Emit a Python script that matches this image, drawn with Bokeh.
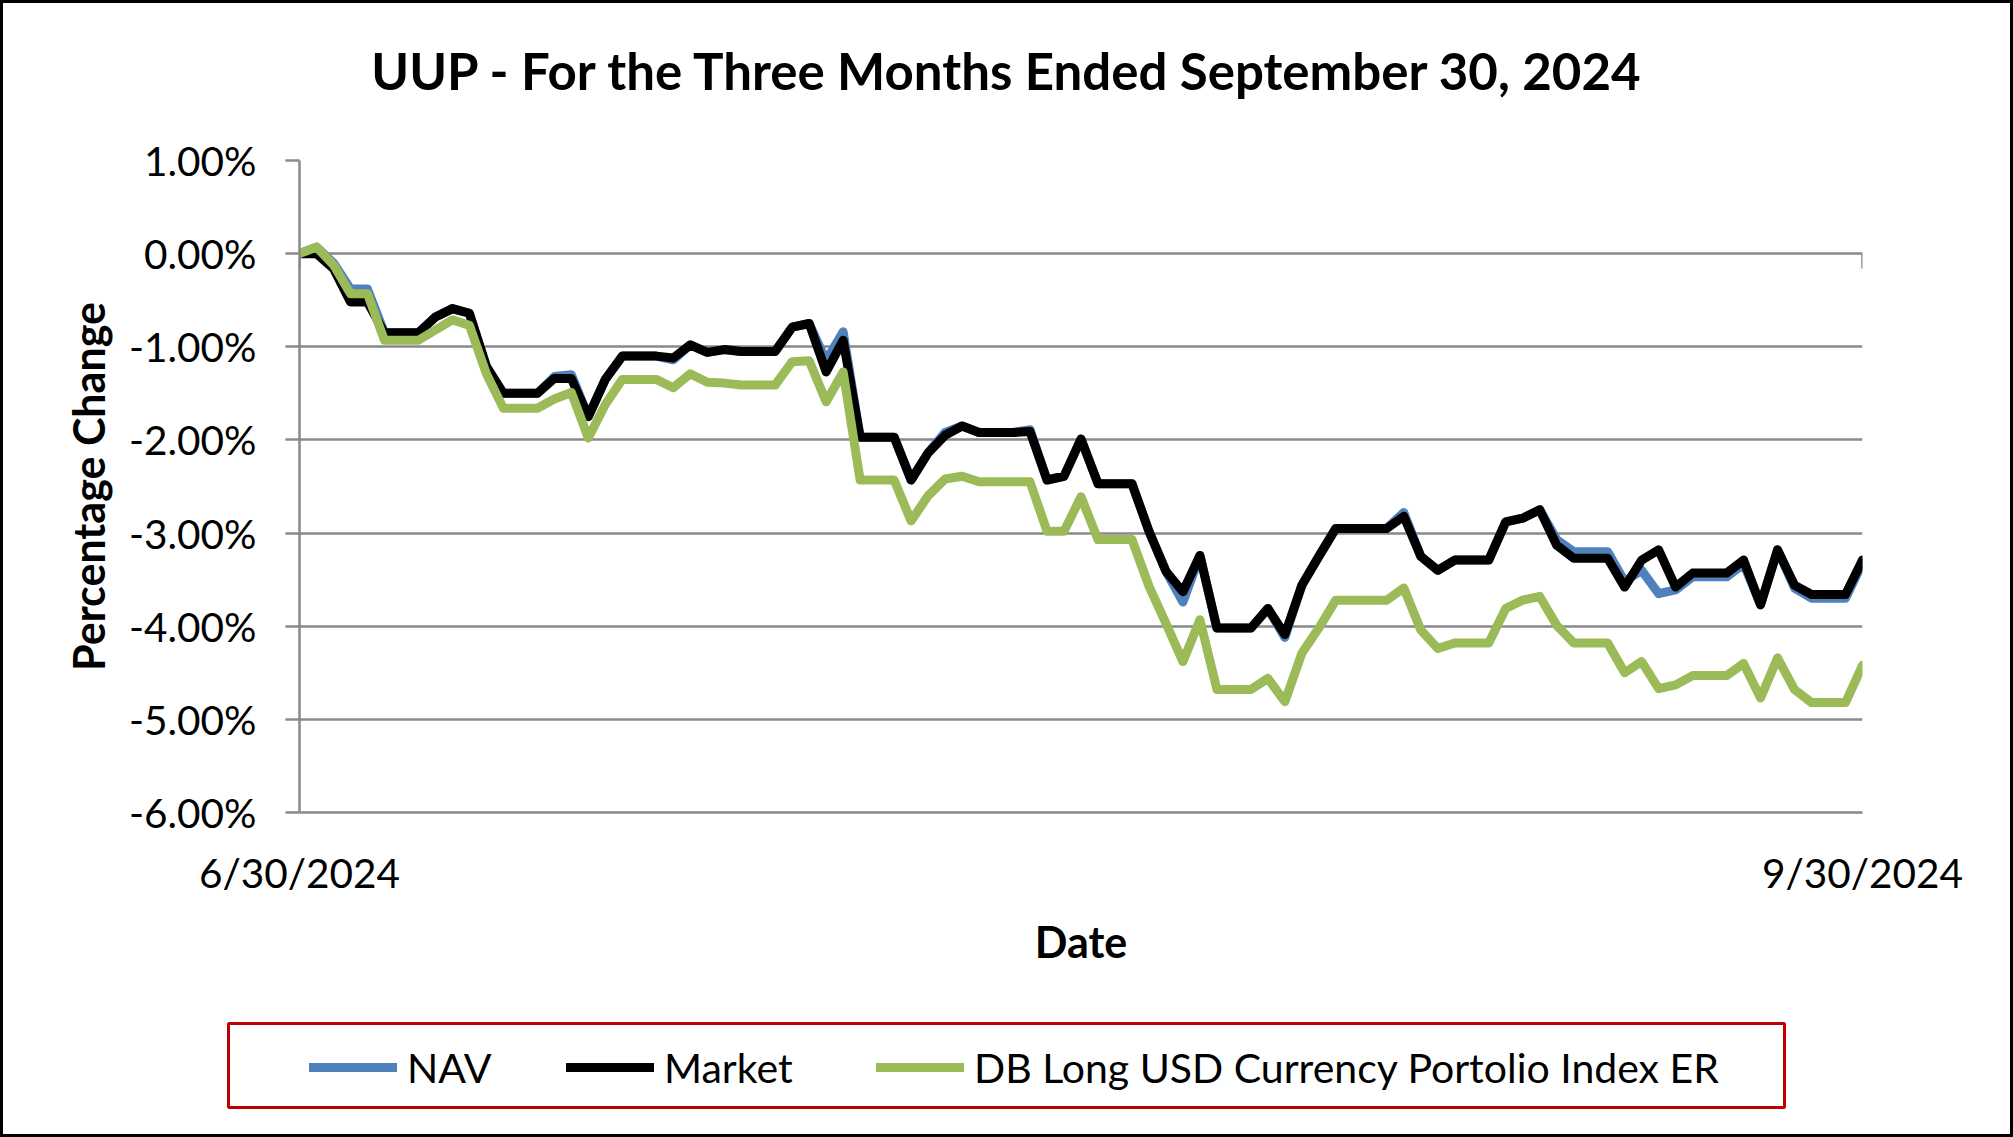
import pandas as pd
from bokeh.plotting import figure
from bokeh.layouts import column
from bokeh.models import (FixedTicker, Legend, LegendItem, BoxAnnotation, Range1d,
                          PrintfTickFormatter, ColumnDataSource, Label, LinearAxis)
from bokeh.embed import file_html
from bokeh.resources import INLINE

# ---------------- data ----------------
dates = pd.date_range("2024-06-30", "2024-09-30", freq="D")

market = [0.00, 0.00, -0.16, -0.52, -0.52, -0.85, -0.85, -0.85, -0.68, -0.59,
          -0.64, -1.21, -1.50, -1.50, -1.50, -1.34, -1.34, -1.75, -1.35, -1.10,
          -1.10, -1.10, -1.12, -0.98, -1.06, -1.03, -1.05, -1.05, -1.05, -0.79,
          -0.75, -1.27, -0.93, -1.97, -1.97, -1.97, -2.43, -2.14, -1.95, -1.85,
          -1.92, -1.92, -1.92, -1.91, -2.43, -2.39, -1.99, -2.47, -2.47, -2.47,
          -2.98, -3.41, -3.63, -3.24, -4.02, -4.02, -4.02, -3.81, -4.09, -3.56,
          -3.25, -2.95, -2.95, -2.95, -2.95, -2.82, -3.25, -3.40, -3.29, -3.29,
          -3.29, -2.88, -2.84, -2.75, -3.13, -3.27, -3.27, -3.27, -3.58, -3.29,
          -3.18, -3.58, -3.43, -3.43, -3.43, -3.29, -3.77, -3.18, -3.56, -3.66,
          -3.66, -3.66, -3.29]

nav = [0.00, 0.07, -0.10, -0.38, -0.38, -0.85, -0.85, -0.85, -0.68, -0.59,
       -0.64, -1.21, -1.50, -1.50, -1.50, -1.32, -1.30, -1.75, -1.35, -1.10,
       -1.10, -1.10, -1.14, -0.98, -1.06, -1.03, -1.05, -1.05, -1.05, -0.79,
       -0.75, -1.15, -0.84, -1.97, -1.97, -1.97, -2.43, -2.14, -1.92, -1.85,
       -1.92, -1.92, -1.92, -1.89, -2.43, -2.39, -1.99, -2.47, -2.47, -2.47,
       -2.98, -3.41, -3.74, -3.24, -4.02, -4.02, -4.02, -3.81, -4.12, -3.56,
       -3.25, -2.95, -2.95, -2.95, -2.95, -2.78, -3.25, -3.40, -3.29, -3.29,
       -3.29, -2.88, -2.84, -2.75, -3.07, -3.20, -3.20, -3.20, -3.52, -3.40,
       -3.65, -3.61, -3.47, -3.47, -3.47, -3.33, -3.77, -3.18, -3.59, -3.70,
       -3.70, -3.70, -3.32]

index_er = [0.00, 0.07, -0.12, -0.43, -0.43, -0.93, -0.93, -0.93, -0.82, -0.71,
            -0.77, -1.29, -1.66, -1.66, -1.66, -1.56, -1.49, -1.98, -1.62, -1.35,
            -1.35, -1.35, -1.44, -1.29, -1.38, -1.39, -1.41, -1.41, -1.41, -1.16,
            -1.15, -1.59, -1.27, -2.43, -2.43, -2.43, -2.87, -2.60, -2.42, -2.39,
            -2.45, -2.45, -2.45, -2.45, -2.98, -2.98, -2.61, -3.07, -3.07, -3.07,
            -3.57, -3.97, -4.38, -3.93, -4.68, -4.68, -4.68, -4.56, -4.81, -4.29,
            -4.02, -3.72, -3.72, -3.72, -3.72, -3.59, -4.04, -4.24, -4.18, -4.18,
            -4.18, -3.81, -3.72, -3.68, -3.99, -4.18, -4.18, -4.18, -4.50, -4.38,
            -4.67, -4.63, -4.53, -4.53, -4.53, -4.40, -4.77, -4.34, -4.68, -4.82,
            -4.82, -4.82, -4.42]

series_names = ["NAV", "Market", "DB Long USD Currency Portolio Index ER"]
series_colors = ["#4F81BD", "#000000", "#9BBB59"]
x_tick_labels = ["6/30/2024", "9/30/2024"]
y_ticks = [1, 0, -1, -2, -3, -4, -5, -6]
title_text = "UUP - For the Three Months Ended September 30, 2024"

day = [(d - dates[0]).days for d in dates]
src = ColumnDataSource(dict(day=day, nav=nav, market=market, index_er=index_er))

# ---------------- layout constants ----------------
W = 2007          # inner width (page is 2013 wide, 3px border each side)
H_TITLE = 100
H_TOP = 915
H_BOT = 116
FONT = "Lato"
GRID = "#898989"
LW = 9


def strip(height):
    f = figure(width=W, height=height, output_backend="svg", toolbar_location=None,
               x_range=Range1d(0, W), y_range=Range1d(0, height),
               x_axis_type=None, y_axis_type=None,
               min_border_left=0, min_border_right=0, min_border_top=0,
               min_border_bottom=0,
               background_fill_color="white", border_fill_color="white")
    f.outline_line_color = None
    f.xgrid.visible = False
    f.ygrid.visible = False
    return f


# ---------------- title strip ----------------
pt = strip(H_TITLE)
pt.add_layout(Label(x=1005, y=33, text=title_text, text_align="center",
                    text_baseline="alphabetic", text_font=FONT,
                    text_font_style="bold", text_font_size="51px",
                    text_color="black"))

# ---------------- main chart ----------------
p = figure(width=W, height=H_TOP, output_backend="svg", toolbar_location=None,
           x_range=Range1d(day[0], day[-1]), y_range=Range1d(-6, 1),
           min_border_left=296, min_border_right=148,
           min_border_top=57, min_border_bottom=H_TOP - 57 - 652,
           background_fill_color="white", border_fill_color="white")
p.outline_line_color = None
p.title.text = ""

ya = p.yaxis[0]
ya.ticker = FixedTicker(ticks=y_ticks)
ya.formatter = PrintfTickFormatter(format="%.2f%%")
ya.axis_line_color = GRID
ya.axis_line_width = 2.5
ya.major_tick_line_color = GRID
ya.major_tick_line_width = 2.5
ya.major_tick_out = 14
ya.major_tick_in = 0
ya.minor_tick_line_color = None
ya.major_label_standoff = 29
ya.major_label_text_font = FONT
ya.major_label_text_font_size = "40.5px"
ya.major_label_text_color = "black"
ya.axis_label = "Percentage Change"
ya.axis_label_text_font = FONT
ya.axis_label_text_font_style = "bold"
ya.axis_label_text_font_size = "43px"
ya.axis_label_text_color = "black"
ya.axis_label_standoff = 12

xa = p.xaxis[0]
xa.ticker = FixedTicker(ticks=[day[0], day[-1]])
xa.major_label_overrides = {day[0]: x_tick_labels[0], day[-1]: x_tick_labels[1]}
xa.axis_line_color = GRID
xa.axis_line_width = 2.5
xa.major_tick_line_color = None
xa.major_tick_out = 0
xa.major_tick_in = 0
xa.minor_tick_line_color = None
xa.major_label_standoff = 35
xa.major_label_text_font = FONT
xa.major_label_text_font_size = "40.5px"
xa.major_label_text_color = "black"
xa.axis_label = "Date"
xa.axis_label_text_font = FONT
xa.axis_label_text_font_style = "bold"
xa.axis_label_text_font_size = "43px"
xa.axis_label_text_color = "black"
xa.axis_label_standoff = 16

# horizontal axis crossing at 0% (tick marks only; labels are on the bottom axis)
cross = LinearAxis(fixed_location=0,
                   ticker=FixedTicker(ticks=[day[0], day[-1]]),
                   major_label_overrides={day[0]: "", day[-1]: ""},
                   axis_line_color=None,
                   major_tick_line_color=GRID, major_tick_line_width=2.5,
                   major_tick_in=15, major_tick_out=0,
                   minor_tick_line_color=None, major_label_standoff=0)
p.add_layout(cross, "above")

p.xgrid.visible = False
p.ygrid.ticker = FixedTicker(ticks=y_ticks)
p.ygrid.grid_line_color = GRID
p.ygrid.grid_line_width = 2.5

for col, color in zip(["nav", "market", "index_er"], series_colors):
    p.line("day", col, source=src, line_color=color, line_width=LW,
           line_join="round", line_cap="round")

# ---------------- legend strip ----------------
p2 = strip(H_BOT)

for f in (pt, p, p2):
    if "frame_align" in f.properties():
        f.frame_align = False

# red legend frame (data units == pixels in this strip)
p2.add_layout(BoxAnnotation(left=225, right=1781, bottom=27, top=111,
                            fill_alpha=0, line_color="#C00000", line_alpha=1.0,
                            line_width=3))

nan = float("nan")
legend_x = [306, 563, 873]
for name, color, lx in zip(series_names, series_colors, legend_x):
    # swatch-only renderer (no visible data) so the legend can show the line style
    r = p2.line(x=[nan, nan], y=[nan, nan], line_color=color, line_width=LW,
                line_cap="round")
    lg = Legend(items=[LegendItem(label=name, renderers=[r])],
                location=(lx, 42), orientation="horizontal",
                padding=0, margin=0, spacing=0,
                glyph_width=88, glyph_height=50, label_standoff=10,
                border_line_color=None, background_fill_alpha=0,
                label_text_font=FONT, label_text_font_size="41px",
                label_text_color="black")
    p2.add_layout(lg, "center")

layout = column(pt, p, p2, spacing=0, styles={"border": "3px solid black"})

open("out.html", "w").write(file_html(layout, INLINE))
